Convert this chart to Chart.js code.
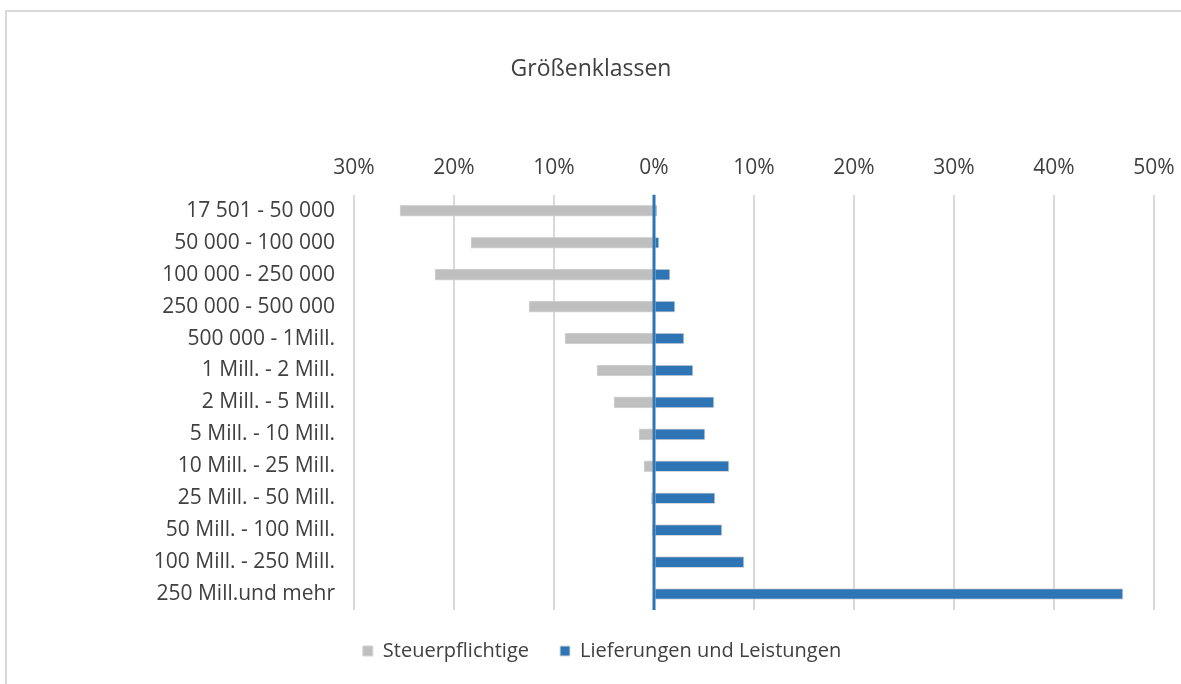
<!DOCTYPE html>
<html>
<head>
<meta charset="utf-8">
<script src="https://cdn.jsdelivr.net/npm/chart.js@4"></script>
<style>
  html, body { margin: 0; padding: 0; background: #fff; overflow: hidden; }
  #frame {
    position: absolute; left: 5px; top: 10px;
    width: 1200px; height: 700px;
    border: 2px solid #d9d9d9;
  }
  #box { position: absolute; left: 0; top: 0; width: 1168px; height: 672px; }
</style>
</head>
<body>
<div id="frame"><div id="box"><canvas id="chart"></canvas></div></div>
<script>
// Größenklassen (Umsatz)
const categories = [
    '17 501 - 50 000',
    '50 000 - 100 000',
    '100 000 - 250 000',
    '250 000 - 500 000',
    '500 000 - 1Mill.',
    '1 Mill. - 2 Mill.',
    '2 Mill. - 5 Mill.',
    '5 Mill. - 10 Mill.',
    '10 Mill. - 25 Mill.',
    '25 Mill. - 50 Mill.',
    '50 Mill. - 100 Mill.',
    '100 Mill. - 250 Mill.',
    '250 Mill.und mehr'
];
// Anteil Steuerpflichtige (nach links, negativ)
const steuerpflichtige = [-25.4, -18.3, -21.9, -12.5, -8.9, -5.7, -4.0, -1.5, -1.0, -0.3, -0.15, -0.05, 0];
// Anteil Lieferungen und Leistungen
const lieferungen = [0.3, 0.5, 1.6, 2.1, 3.0, 3.9, 6.0, 5.1, 7.5, 6.1, 6.8, 9.0, 46.9];
const xTicks = [-30, -20, -10, 0, 10, 20, 30, 40, 50];

const textColor = '#404040';
const fontFamily = '"Open Sans", "Noto Sans", sans-serif';

// Nulllinie über den Balken zeichnen
const zeroLine = {
    id: 'zeroLine',
    afterDatasetsDraw(chart) {
        const x = chart.scales.x.getPixelForValue(0);
        const area = chart.chartArea;
        const ctx = chart.ctx;
        ctx.save();
        ctx.strokeStyle = '#2E75B6';
        ctx.lineWidth = 3;
        ctx.beginPath();
        ctx.moveTo(x, area.top);
        ctx.lineTo(x, area.bottom);
        ctx.stroke();
        ctx.restore();
    }
};

// Legende etwas nach rechts schieben
const legendShift = {
    id: 'legendShift',
    afterLayout(chart) {
        chart.legend.left += 11;
        chart.legend.right += 11;
    }
};

window.onload = function () {
    const ctx = document.getElementById('chart').getContext('2d');
    new Chart(ctx, {
        type: 'bar',
        data: {
            labels: categories,
            datasets: [{
                label: 'Steuerpflichtige',
                data: steuerpflichtige,
                backgroundColor: '#BFBFBF',
                borderColor: '#D4D4D4',
                borderWidth: 1,
                borderSkipped: false,
                barThickness: 11
            }, {
                label: 'Lieferungen und Leistungen',
                data: lieferungen,
                backgroundColor: '#2E75B6',
                borderColor: '#D9D9D9',
                borderWidth: 1,
                borderSkipped: false,
                barThickness: 11
            }]
        },
        options: {
            indexAxis: 'y',
            responsive: true,
            maintainAspectRatio: false,
            animation: false,
            layout: { padding: { left: 0, right: 0, top: 0, bottom: 13 } },
            scales: {
                x: {
                    position: 'top',
                    stacked: true,
                    min: -30,
                    max: 50,
                    afterBuildTicks: (scale) => { scale.ticks = xTicks.map(v => ({ value: v })); },
                    afterFit: (scale) => { scale.paddingRight = 21; },
                    ticks: {
                        color: textColor,
                        font: { family: fontFamily, size: 21 },
                        padding: 14,
                        callback: (v) => Math.abs(v) + '%'
                    },
                    grid: {
                        color: '#D9D9D9',
                        lineWidth: 2,
                        drawTicks: false
                    },
                    border: { display: false }
                },
                y: {
                    stacked: true,
                    afterFit: (scale) => { scale.width = 347; },
                    ticks: {
                        color: textColor,
                        font: { family: fontFamily, size: 21 },
                        padding: 19
                    },
                    grid: { display: false, drawTicks: false },
                    border: { display: false }
                }
            },
            plugins: {
                title: {
                    display: true,
                    text: 'Größenklassen',
                    color: textColor,
                    font: { family: fontFamily, size: 23, weight: 'normal' },
                    padding: { top: 44, bottom: 58 }
                },
                legend: {
                    position: 'bottom',
                    labels: {
                        color: textColor,
                        font: { family: fontFamily, size: 20 },
                        boxWidth: 10,
                        boxHeight: 10,
                        padding: 31
                    }
                },
                tooltip: { enabled: false }
            }
        },
        plugins: [zeroLine, legendShift]
    });
};
</script>
</body>
</html>
